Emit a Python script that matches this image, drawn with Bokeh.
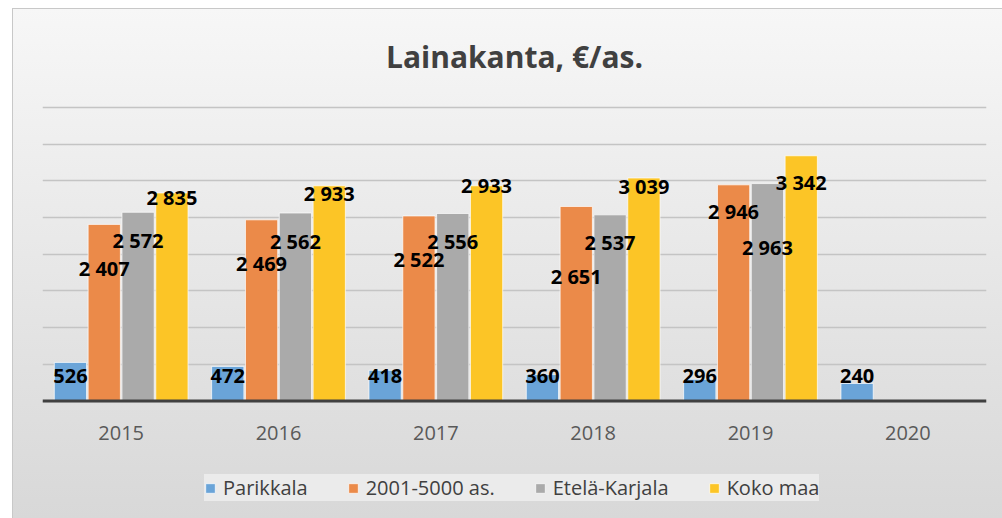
from bokeh.plotting import figure
from bokeh.models import (ColumnDataSource, FactorRange, Legend, LegendItem, FixedTicker,
                          Range1d, Span)
from bokeh.transform import dodge
from bokeh.core.properties import value
from bokeh.embed import file_html
from bokeh.resources import INLINE

# ---- data ----
title = "Lainakanta, €/as."
years = ["2015", "2016", "2017", "2018", "2019", "2020"]
series_names = ["Parikkala", "2001-5000 as.", "Etelä-Karjala", "Koko maa"]
parikkala = [526, 472, 418, 360, 296, 240]
kunnat_2001_5000 = [2407, 2469, 2522, 2651, 2946, None]
etela_karjala = [2572, 2562, 2556, 2537, 2963, None]
koko_maa = [2835, 2933, 2933, 3039, 3342, None]
y_ticks = [0, 500, 1000, 1500, 2000, 2500, 3000, 3500, 4000]

series = [parikkala, kunnat_2001_5000, etela_karjala, koko_maa]

# ---- styling ----
colors = ["#6aa4d8", "#eb8a49", "#aaaaaa", "#fcc526"]
offsets = [-0.3225, -0.1075, 0.1075, 0.3225]
bar_w = 0.205
# data-label placement as in the original (pixels below bar top; first series anchored at base)
label_dy = [[-25] * 6, [44, 44, 44, 70, 27], [28, 28, 28, 28, 64], [5, 8, 0, 8, 27]]

def fmt(v):
    return f"{v:,}".replace(",", " ")

# plot frame spans the full height; the value axis is scaled so 0..4000 sits where the original has it
p = figure(x_range=FactorRange(factors=years, range_padding=0),
           y_range=Range1d(-1601, 5349),
           width=990, height=510, output_backend="svg", toolbar_location=None,
           min_border_left=30, min_border_right=16, min_border_top=0, min_border_bottom=0)
p.title.visible = False
p.xaxis.visible = False
p.yaxis.visible = False

p.styles = {"margin-left": "12px", "margin-top": "8px",
            "background": "linear-gradient(to bottom, #f7f7f7 0%, #e9e9e9 45%, #d8d8d8 100%)",
            "box-shadow": "inset 1px 1px 0 #c8c8c8"}
p.border_fill_color = None
p.background_fill_color = None
p.outline_line_color = None

p.xgrid.grid_line_color = None
p.ygrid.ticker = FixedTicker(ticks=y_ticks)
p.ygrid.grid_line_color = "#c4c4c4"
p.ygrid.grid_line_width = 1.5

renderers = []
for i, (name, vals) in enumerate(zip(series_names, series)):
    tops = [float("nan") if v is None else v for v in vals]
    src = ColumnDataSource(dict(year=years, top=tops))
    r = p.vbar(x=dodge("year", offsets[i], range=p.x_range), top="top", width=bar_w, source=src,
               fill_color=colors[i], line_color="white", line_alpha=0.7, line_width=1)
    renderers.append(r)

# category axis line and labels
p.add_layout(Span(location=0, dimension="width", line_color="#404040", line_width=3))
cat_src = ColumnDataSource(dict(year=years, y=[0] * len(years)))
p.text(x="year", y="y", text="year", y_offset=32, source=cat_src,
       text_font=value("Open Sans"), text_font_size="20px", text_color="#595959",
       text_align="center", text_baseline="middle")

# data labels
for i, vals in enumerate(series):
    ly, lt, lx, dy = [], [], [], []
    for j, v in enumerate(vals):
        if v is None:
            continue
        lx.append(years[j])
        ly.append(0 if i == 0 else v)
        lt.append(fmt(v))
        dy.append(label_dy[i][j])
    lsrc = ColumnDataSource(dict(year=lx, y=ly, text=lt, dy=dy))
    p.text(x=dodge("year", offsets[i], range=p.x_range), y="y", text="text", y_offset="dy",
           source=lsrc, text_font=value("Open Sans"), text_font_style="bold",
           text_font_size="20px", text_color="black", text_align="center",
           text_baseline="middle")

# chart title, centred over the plot area (between the 3rd and 4th category)
title_src = ColumnDataSource(dict(x=[years[2]], y=[p.y_range.end], text=[title]))
p.text(x=dodge("x", 0.5, range=p.x_range), y="y", text="text", y_offset=48, source=title_src,
       text_font=value("Open Sans"), text_font_style="bold", text_font_size="30px",
       text_color="#404040", text_align="center", text_baseline="middle")

legend = Legend(items=[LegendItem(label=n, renderers=[r]) for n, r in zip(series_names, renderers)],
                orientation="horizontal", location=(162, 17))
legend.background_fill_color = "#ebebeb"
legend.background_fill_alpha = 1
legend.border_line_color = None
legend.glyph_width = 12
legend.glyph_height = 12
legend.label_standoff = 7
legend.spacing = 39
legend.padding = 14
legend.margin = 0
legend.label_height = 17
legend.label_text_font = "Open Sans"
legend.label_text_font_size = "20px"
legend.label_text_color = "#404040"
p.add_layout(legend, "center")

open("out.html", "w").write(file_html(p, INLINE))
